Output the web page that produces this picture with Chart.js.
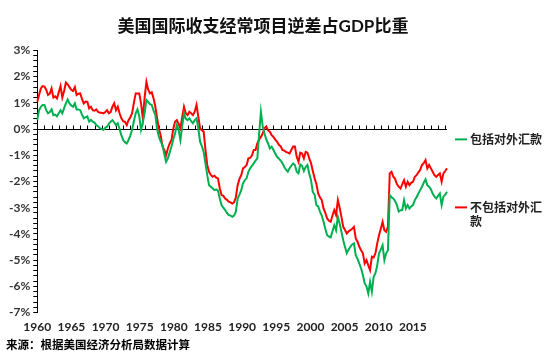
<!DOCTYPE html>
<html>
<head>
<meta charset="utf-8">
<script src="https://cdn.jsdelivr.net/npm/chart.js@4"></script>
<style>
html,body{margin:0;padding:0;background:#fff;}
canvas{display:block;}
</style>
</head>
<body>
<canvas id="c" width="550" height="355"></canvas>
<script>
const chartTitle = '美国国际收支经常项目逆差占GDP比重';
const sourceNote = '来源：根据美国经济分析局数据计算';
const seriesNames = ['包括对外汇款', '不包括对外汇款'];
const startYear = 1960;

// Current account balance, % of GDP, quarterly 1960Q1 - 2017Q2
const inclRemit = [
  0.34, 0.72, 0.85, 0.92,   0.92, 0.72, 0.60, 0.65,   0.75, 0.53, 0.55, 0.48,   0.60, 0.72, 0.60, 0.80,
  0.98, 1.13, 0.98, 0.90,   0.85, 0.98, 0.75, 0.75,   0.72, 0.55, 0.41, 0.45,   0.48, 0.28, 0.35, 0.28,
  0.25, 0.15, 0.10, 0.03,   0.00, -0.03, 0.05, 0.09,  0.20, 0.28, 0.34, 0.25,   0.15, 0.22, 0.00, -0.23,
  -0.42, -0.50, -0.55, -0.42, -0.25, -0.03, 0.30, 0.60, 0.75, 0.50, -0.03, 0.25, 0.60, 1.11, 1.04, 0.95,
  0.92, 0.70, 0.53, 0.00,   -0.30, -0.48, -0.61, -0.95, -1.25, -1.12, -0.90, -0.67, -0.40, -0.17, 0.15, -0.03,
  -0.42, 0.10, 0.60, 0.40,  0.34, 0.41, 0.30, 0.22,   0.34, 0.41, 0.03, -0.48,  -0.65, -0.87, -1.31, -1.76,
  -2.14, -2.20, -2.26, -2.33, -2.30, -2.35, -2.65, -2.90, -3.00, -3.09, -3.20, -3.28, -3.30, -3.35, -3.30, -3.15,
  -2.65, -2.50, -2.33, -2.07, -1.95, -1.88, -1.63, -1.50, -1.40, -1.31, -1.20, -1.12, -0.17, 0.66, 0.10, -0.17,
  -0.40, -0.55, -0.74, -0.67, -0.80, -0.93, -1.06, -1.12, -1.20, -1.30, -1.44, -1.55, -1.63, -1.50, -1.40, -1.31,
  -1.37, -1.63, -1.69, -1.35, -1.40, -1.60, -1.45, -1.37, -1.70, -1.95, -2.40, -2.50, -2.90, -2.95, -3.15, -3.30,
  -3.54, -3.80, -4.05, -4.10, -4.13, -3.90, -3.67, -3.86, -3.35, -3.60, -3.92, -4.24, -4.50, -4.74, -4.60, -4.49,
  -4.40, -4.36, -4.81, -4.95, -5.13, -5.32, -5.57, -5.89, -6.00, -6.27, -5.83, -6.20, -5.64, -5.50, -5.20, -4.74,
  -4.60, -4.43, -5.00, -4.74, -4.62, -2.52, -2.60, -2.65, -2.75, -2.90, -3.15, -3.10, -3.09, -2.71, -3.03, -2.90,
  -3.03, -2.95, -2.90, -2.71, -2.60, -2.46, -2.33, -2.20, -2.05, -1.92, -2.14, -2.20, -2.30, -2.46, -2.58, -2.65,
  -2.55, -2.46, -2.90, -2.58, -2.50, -2.39
];
const exclRemit = [
  1.04, 1.30, 1.55, 1.64,   1.62, 1.50, 1.30, 1.35,   1.55, 1.20, 1.25, 1.17,   1.40, 1.64, 1.20, 1.45,
  1.77, 1.70, 1.60, 1.50,   1.45, 1.60, 1.30, 1.35,   1.36, 1.15, 0.98, 1.05,   1.04, 0.79, 0.85, 0.72,
  0.70, 0.75, 0.65, 0.62,   0.62, 0.60, 0.65, 0.72,   0.60, 0.65, 0.85, 0.98,   0.72, 0.85, 0.60, 0.41,
  0.30, 0.28, 0.15, 0.34,   0.45, 0.60, 1.00, 1.36,   1.36, 1.36, 0.98, 0.41,   1.20, 1.80, 1.50, 1.36,
  1.40, 1.17, 0.85, 0.41,   0.00, -0.25, -0.67, -0.80, -1.00, -0.74, -0.55, -0.42, 0.00, 0.28, 0.34, 0.20,
  0.03, 0.45, 0.85, 0.60,   0.53, 0.66, 0.60, 0.53,   0.66, 0.92, 0.47, 0.03,   -0.05, -0.10, -0.80, -1.37,
  -1.63, -1.75, -1.82, -1.78, -1.85, -1.88, -2.26, -2.52, -2.55, -2.65, -2.70, -2.77, -2.80, -2.84, -2.80, -2.60,
  -2.14, -1.90, -1.76, -1.50, -1.45, -1.37, -1.12, -1.10, -1.00, -0.80, -0.80, -0.55, -0.40, -0.30, -0.17, 0.03,
  0.10, -0.05, -0.10, -0.23, -0.30, -0.40, -0.48, -0.60, -0.65, -0.80, -0.82, -0.87, -0.90, -0.93, -0.80, -0.67,
  -0.67, -1.06, -1.25, -0.90, -0.93, -1.12, -0.87, -0.90, -1.12, -1.30, -1.60, -1.88, -2.10, -2.46, -2.60, -2.71,
  -3.03, -3.20, -3.41, -3.50, -3.54, -3.30, -3.09, -3.28, -2.71, -3.00, -3.35, -3.73, -3.85, -3.98, -3.90, -3.86,
  -3.80, -3.73, -4.17, -4.30, -4.49, -4.62, -4.74, -5.13, -5.00, -5.20, -5.38, -4.87, -4.90, -4.74, -4.36, -4.05,
  -3.80, -3.54, -3.86, -3.92, -3.73, -1.69, -1.63, -1.82, -1.90, -2.10, -2.20, -2.27, -2.10, -1.95, -2.20, -2.01,
  -2.14, -2.05, -2.01, -1.82, -1.76, -1.65, -1.56, -1.37, -1.30, -1.18, -1.50, -1.37, -1.50, -1.63, -1.76, -1.82,
  -1.75, -1.69, -2.01, -1.69, -1.60, -1.50
];
const xTickLabels = ['1960', '1965', '1970', '1975', '1980', '1985', '1990', '1995', '2000', '2005', '2010', '2015', ''];

const quarters = inclRemit.map((_, i) => (startYear + Math.floor(i / 4)) + 'Q' + (i % 4 + 1));
const legendLines = [
  [seriesNames[0]],
  [seriesNames[1].slice(0, 6), seriesNames[1].slice(6)]
];

const FONT = "Lato, 'Noto Sans CJK SC', sans-serif";
const CJK = "'Noto Sans CJK SC', sans-serif";

// zero axis line with a tick mark at every year, drawn from the scales
const zeroAxis = {
  id: 'zeroAxis',
  beforeDatasetsDraw(chart) {
    const { ctx, chartArea, scales } = chart;
    const y0 = Math.round(scales.y.getPixelForValue(0)) + 0.5;
    ctx.save();
    ctx.strokeStyle = '#000';
    ctx.lineWidth = 1;
    ctx.beginPath();
    ctx.moveTo(chartArea.left, y0);
    ctx.lineTo(chartArea.right, y0);
    for (let i = 0; i < quarters.length; i += 4) {
      const px = Math.round(scales.x.getPixelForValue(i)) + 0.5;
      ctx.moveTo(px, y0);
      ctx.lineTo(px, y0 - 4);
    }
    ctx.stroke();
    ctx.restore();
  }
};

// legend in the space kept free at the right, text wrapped like the original
const sideLegend = {
  id: 'sideLegend',
  afterDraw(chart) {
    const { ctx, chartArea } = chart;
    const x0 = chartArea.right + 8;
    const rowsY = [chartArea.top + 89, chartArea.top + 157];
    ctx.save();
    ctx.font = 'bold 12px ' + CJK;
    ctx.textBaseline = 'middle';
    ctx.fillStyle = '#222';
    chart.data.datasets.forEach((ds, i) => {
      const y = rowsY[i];
      ctx.strokeStyle = ds.borderColor;
      ctx.lineWidth = 2;
      ctx.beginPath();
      ctx.moveTo(x0, y);
      ctx.lineTo(x0 + 12, y);
      ctx.stroke();
      legendLines[i].forEach((line, k) => ctx.fillText(line, x0 + 15, y + k * 14));
    });
    ctx.restore();
  }
};

new Chart(document.getElementById('c'), {
  type: 'line',
  data: {
    labels: quarters,
    datasets: [
      { label: seriesNames[0], data: inclRemit, borderColor: '#00B050', backgroundColor: '#00B050',
        borderWidth: 2, pointRadius: 0, tension: 0, fill: false },
      { label: seriesNames[1], data: exclRemit, borderColor: '#FF0000', backgroundColor: '#FF0000',
        borderWidth: 2, pointRadius: 0, tension: 0, fill: false }
    ]
  },
  plugins: [zeroAxis, sideLegend],
  options: {
    responsive: false,
    animation: false,
    devicePixelRatio: 1,
    layout: { padding: { left: 6, right: 30, top: 0, bottom: 0 } },
    scales: {
      x: {
        type: 'category',
        display: false,
        offset: false
      },
      xl: {
        type: 'category',
        labels: xTickLabels,
        position: 'bottom',
        offset: false,
        grid: { display: false, drawTicks: false },
        border: { display: false },
        ticks: { autoSkip: false, maxRotation: 0, padding: 7, color: '#222',
                 font: { family: FONT, size: 12, weight: 'bold' } }
      },
      y: {
        min: -7, max: 3,
        position: 'left',
        grid: { drawOnChartArea: false, tickLength: 4, color: '#000' },
        border: { color: '#000', width: 1 },
        ticks: {
          stepSize: 0.2, autoSkip: false, padding: 3, color: '#333',
          font: { family: FONT, size: 12, weight: 'bold' },
          callback: v => Math.abs(v - Math.round(v)) < 1e-6 ? Math.round(v) + '%' : ''
        }
      },
      // empty right-hand axis that keeps the room where the legend is drawn
      legendRoom: {
        type: 'linear',
        position: 'right',
        display: true,
        grid: { display: false, drawTicks: false },
        border: { display: false },
        ticks: { display: false },
        afterFit: s => { s.width = 73; }
      }
    },
    plugins: {
      legend: { display: false },
      title: {
        display: true, text: chartTitle, color: '#111',
        font: { family: FONT, size: 17, weight: 'bold' },
        padding: { top: 16, bottom: 14 }
      },
      subtitle: {
        display: true, position: 'bottom', align: 'start', text: sourceNote, color: '#000',
        font: { family: FONT, size: 11.5, weight: 'bold', lineHeight: 0.7 },
        padding: { top: 0, bottom: 6 }
      },
      tooltip: { enabled: false }
    }
  }
});
</script>
</body>
</html>
